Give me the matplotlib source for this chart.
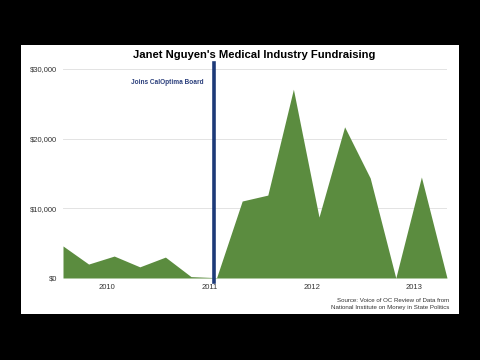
import numpy as np
import matplotlib.pyplot as plt
from matplotlib.patches import Rectangle

plt.rcParams['font.family'] = ['Liberation Sans', 'DejaVu Sans']

# quarterly contributions, mid-2009 .. early 2013
amounts = [4600, 2000, 3150, 1600, 3000, 200, 50, 11050,
           11900, 27100, 8750, 21700, 14350, 0, 14500, 0]
year_labels = ['2010', '2011', '2012', '2013']
year_pos = [1.72, 5.72, 9.72, 13.72]
board_pos = 5.88
y_ticks = [0, 10000, 20000, 30000]
y_labels = ['$0', '$10,000', '$20,000', '$30,000']

x = np.arange(len(amounts))

fig = plt.figure(figsize=(4.8, 3.6), dpi=100, facecolor='black')
fig.patches.append(Rectangle((21/480, 1-314/360), 438/480, 269/360,
                             transform=fig.transFigure, facecolor='white',
                             edgecolor='none', zorder=-1))

ax = fig.add_axes([63/480, 1-278/360, 384/480, 209/360], zorder=2)
ax.set_facecolor('none')
ax.fill_between(x, amounts, 0, color='#5b8c3f', linewidth=0, zorder=2)
ax.set_xlim(0, len(amounts)-1)
ax.set_ylim(0, 30000)

ax.set_yticks(y_ticks)
ax.set_yticklabels(y_labels, fontsize=5.5, color='#333333')
ax.set_xticks(year_pos)
ax.set_xticklabels(year_labels, fontsize=5.5, color='#333333')
ax.tick_params(length=0, pad=4)
ax.grid(axis='y', color='#e3e3e3', linewidth=0.7, zorder=1)
for s in ax.spines.values():
    s.set_visible(False)

ax.axvline(board_pos, ymin=-0.02, ymax=1.03, color='#1d3a78', linewidth=2.6,
           clip_on=False, zorder=3)
ax.text(board_pos - 0.38, 28000, 'Joins CalOptima Board', ha='right', va='center',
        fontsize=4.7, fontweight='bold', color='#2b3f7c')

fig.text(254/480, 1-55/360, "Janet Nguyen's Medical Industry Fundraising",
         ha='center', va='center', fontsize=8.1, fontweight='bold', color='black',
         zorder=3)
fig.text(449/480, 1-304/360,
         'Source: Voice of OC Review of Data from\nNational Institute on Money in State Politics',
         ha='right', va='center', fontsize=4.4, color='#333333', linespacing=1.5,
         zorder=3)

fig.savefig('out.png', dpi=100, facecolor='black')
